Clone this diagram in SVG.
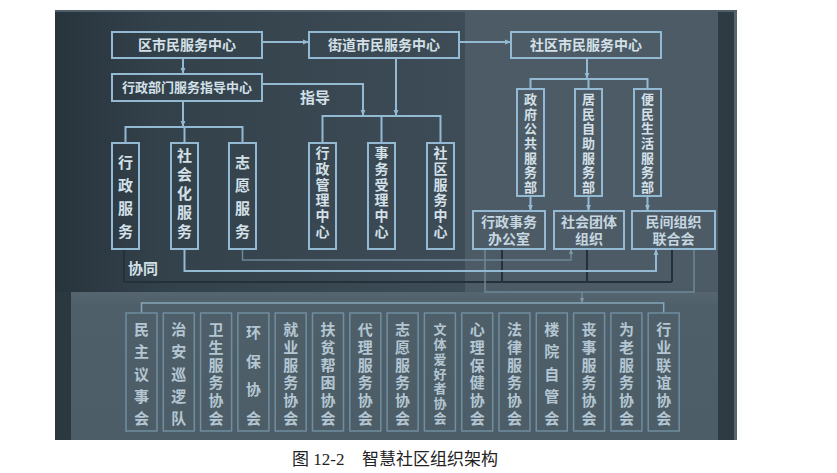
<svg xmlns="http://www.w3.org/2000/svg" width="837" height="473" viewBox="0 0 837 473">
<style>
.ln{stroke:#93bad2;stroke-width:2;fill:none}
.dim{stroke:#6e8898;stroke-width:1.5;fill:none}
.dark{stroke:#24313a;stroke-width:2;fill:none}
.box{fill:none;stroke:#93bad2;stroke-width:2}
.sbox{fill:none;stroke:#6f8ea0;stroke-width:1.5}
.t{font-family:"Liberation Sans","Noto Sans CJK SC",sans-serif;font-weight:bold;fill:#d3e0e8;text-anchor:middle;dominant-baseline:central}
.st{font-family:"Liberation Sans","Noto Sans CJK SC",sans-serif;font-weight:bold;fill:#b3c6d2;text-anchor:middle;dominant-baseline:central;font-size:15px}
.cap{font-family:"Liberation Serif","Noto Sans CJK SC",serif;font-size:17px;fill:#222}
</style>
<defs>
<linearGradient id="gl" x1="0" y1="0" x2="1" y2="0">
<stop offset="0" stop-color="#27343c"/>
<stop offset="0.25" stop-color="#33414b"/>
<stop offset="1" stop-color="#3d4c56"/>
</linearGradient>
<linearGradient id="gb" x1="0" y1="0" x2="0" y2="1">
<stop offset="0" stop-color="#566670"/>
<stop offset="0.1" stop-color="#4f5f69"/>
<stop offset="1" stop-color="#4d5d67"/>
</linearGradient>
<marker id="ah" viewBox="0 0 10 10" refX="10" refY="5" markerWidth="6" markerHeight="6" markerUnits="userSpaceOnUse" orient="auto"><path d="M0,1 L10,5 L0,9 z" fill="#93bad2"/></marker>
<marker id="ahd" viewBox="0 0 10 10" refX="10" refY="5" markerWidth="5" markerHeight="5" markerUnits="userSpaceOnUse" orient="auto"><path d="M0,1 L10,5 L0,9 z" fill="#7e9aab"/></marker>
</defs>

<!-- background panels -->
<rect x="55" y="10" width="682" height="430" fill="#46555f"/>
<rect x="55" y="10" width="410" height="282" fill="url(#gl)"/>
<rect x="465" y="10" width="253" height="282" fill="#4c5b65"/>
<rect x="718" y="10" width="19" height="430" fill="#2f3b43"/>
<rect x="734" y="10" width="3" height="430" fill="#56656e"/>
<rect x="71" y="292" width="647" height="148" fill="url(#gb)"/>
<rect x="55" y="292" width="16" height="148" fill="#2c3840"/>
<line x1="55" y1="11" x2="737" y2="11" stroke="#4f5e68" stroke-width="2"/>

<!-- connectors -->
<g id="connectors">
<line class="ln" x1="262" y1="42" x2="309" y2="42" marker-end="url(#ah)"/>
<line class="ln" x1="459" y1="42" x2="511" y2="42" marker-end="url(#ah)"/>
<line class="ln" x1="183" y1="58" x2="183" y2="74" marker-end="url(#ah)"/>
<line class="ln" x1="183" y1="101" x2="183" y2="127" marker-end="url(#ah)"/>
<polyline class="ln" points="125.5,143 125.5,127 242.5,127 242.5,143"/>
<line class="ln" x1="184.5" y1="127" x2="184.5" y2="143"/>
<polyline class="ln" points="262,84 363,84 363,116" marker-end="url(#ah)"/>
<line class="ln" x1="396" y1="58" x2="396" y2="116" marker-end="url(#ah)"/>
<polyline class="ln" points="322.5,143 322.5,116 440.5,116 440.5,143"/>
<line class="ln" x1="381.5" y1="116" x2="381.5" y2="143"/>
<line class="ln" x1="587" y1="58" x2="587" y2="79" marker-end="url(#ah)"/>
<polyline class="ln" points="530.5,89 530.5,79 647.5,79 647.5,89"/>
<line class="ln" x1="588.5" y1="79" x2="588.5" y2="89"/>
<line class="ln" x1="530.5" y1="196" x2="530.5" y2="211" marker-end="url(#ah)"/>
<line class="ln" x1="588.5" y1="196" x2="588.5" y2="211" marker-end="url(#ah)"/>
<line class="ln" x1="647.5" y1="196" x2="647.5" y2="211" marker-end="url(#ah)"/>
<polyline class="dark" points="124,249 124,282 672,282"/>
<line class="dark" x1="502" y1="249" x2="502" y2="282"/>
<line class="dark" x1="587" y1="249" x2="587" y2="282"/>
<line class="dark" x1="672" y1="249" x2="672" y2="282"/>
<polyline class="dim" points="485,249 485,292 694,292 694,249"/>
<polyline class="dim" points="242.5,249 242.5,260 571,260 571,249" marker-end="url(#ahd)"/>
<polyline class="ln" points="184.5,249 184.5,271 656,271 656,249" marker-end="url(#ah)"/>
<line class="dim" x1="582" y1="292" x2="582" y2="303" marker-end="url(#ahd)"/>
<polyline class="dim" points="141.5,313 141.5,303 663.7,303 663.7,313" style="stroke:#86a6b9"/>
</g>

<text class="t" x="315" y="97" style="font-size:15px">指导</text>
<text class="t" x="143" y="268" style="font-size:15px">协同</text>

<!-- top nodes -->
<g id="n-qu"><rect class="box" x="112" y="32" width="150" height="26"/><text class="t" x="187" y="45" style="font-size:14px">区市民服务中心</text></g>
<g id="n-jiedao"><rect class="box" x="309" y="32" width="150" height="26"/><text class="t" x="384" y="45" style="font-size:14px">街道市民服务中心</text></g>
<g id="n-shequ"><rect class="box" x="511" y="32" width="150" height="26"/><text class="t" x="586" y="45" style="font-size:14px">社区市民服务中心</text></g>
<g id="n-xingzhengbumen"><rect class="box" x="112" y="74" width="150" height="27"/><text class="t" x="187" y="87.5" style="font-size:13px">行政部门服务指导中心</text></g>

<!-- left vertical nodes -->
<g id="n-xzfw"><rect class="box" x="112" y="143" width="27" height="106"/><text class="t" style="font-size:15px"><tspan x="125.5" y="162">行</tspan><tspan x="125.5" y="185">政</tspan><tspan x="125.5" y="208">服</tspan><tspan x="125.5" y="231">务</tspan></text></g>
<g id="n-shhfw"><rect class="box" x="171" y="143" width="27" height="106"/><text class="t" style="font-size:15px"><tspan x="184.5" y="155">社</tspan><tspan x="184.5" y="174">会</tspan><tspan x="184.5" y="193">化</tspan><tspan x="184.5" y="212">服</tspan><tspan x="184.5" y="231">务</tspan></text></g>
<g id="n-zyfw"><rect class="box" x="229" y="143" width="27" height="106"/><text class="t" style="font-size:15px"><tspan x="242.5" y="162">志</tspan><tspan x="242.5" y="185">愿</tspan><tspan x="242.5" y="208">服</tspan><tspan x="242.5" y="231">务</tspan></text></g>
<g id="n-xzgl"><rect class="box" x="309" y="143" width="27" height="106"/><text class="t" style="font-size:14px"><tspan x="322.5" y="153">行</tspan><tspan x="322.5" y="168.8">政</tspan><tspan x="322.5" y="184.6">管</tspan><tspan x="322.5" y="200.4">理</tspan><tspan x="322.5" y="216.2">中</tspan><tspan x="322.5" y="232">心</tspan></text></g>
<g id="n-swsl"><rect class="box" x="368" y="143" width="27" height="106"/><text class="t" style="font-size:14px"><tspan x="381.5" y="153">事</tspan><tspan x="381.5" y="168.8">务</tspan><tspan x="381.5" y="184.6">受</tspan><tspan x="381.5" y="200.4">理</tspan><tspan x="381.5" y="216.2">中</tspan><tspan x="381.5" y="232">心</tspan></text></g>
<g id="n-sqfw"><rect class="box" x="427" y="143" width="27" height="106"/><text class="t" style="font-size:14px"><tspan x="440.5" y="153">社</tspan><tspan x="440.5" y="168.8">区</tspan><tspan x="440.5" y="184.6">服</tspan><tspan x="440.5" y="200.4">务</tspan><tspan x="440.5" y="216.2">中</tspan><tspan x="440.5" y="232">心</tspan></text></g>

<!-- right vertical nodes -->
<g id="n-zfgg"><rect class="box" x="517" y="89" width="27" height="107"/><text class="t" style="font-size:13px"><tspan x="530.5" y="99">政</tspan><tspan x="530.5" y="113.7">府</tspan><tspan x="530.5" y="128.3">公</tspan><tspan x="530.5" y="143">共</tspan><tspan x="530.5" y="157.7">服</tspan><tspan x="530.5" y="172.3">务</tspan><tspan x="530.5" y="187">部</tspan></text></g>
<g id="n-jmzz"><rect class="box" x="575" y="89" width="27" height="107"/><text class="t" style="font-size:13px"><tspan x="588.5" y="99">居</tspan><tspan x="588.5" y="113.7">民</tspan><tspan x="588.5" y="128.3">自</tspan><tspan x="588.5" y="143">助</tspan><tspan x="588.5" y="157.7">服</tspan><tspan x="588.5" y="172.3">务</tspan><tspan x="588.5" y="187">部</tspan></text></g>
<g id="n-bmsh"><rect class="box" x="634" y="89" width="27" height="107"/><text class="t" style="font-size:13px"><tspan x="647.5" y="99">便</tspan><tspan x="647.5" y="113.7">民</tspan><tspan x="647.5" y="128.3">生</tspan><tspan x="647.5" y="143">活</tspan><tspan x="647.5" y="157.7">服</tspan><tspan x="647.5" y="172.3">务</tspan><tspan x="647.5" y="187">部</tspan></text></g>

<!-- right bottom nodes -->
<g id="n-xzsw"><rect class="box" x="473" y="211" width="72" height="38"/><text class="t" style="font-size:14px;fill:#c6d6e0"><tspan x="509" y="222">行政事务</tspan><tspan x="509" y="239">办公室</tspan></text></g>
<g id="n-shtt"><rect class="box" x="554" y="211" width="70" height="38"/><text class="t" style="font-size:14px;fill:#c6d6e0"><tspan x="589" y="222">社会团体</tspan><tspan x="589" y="239">组织</tspan></text></g>
<g id="n-mjzz"><rect class="box" x="632" y="211" width="83" height="38"/><text class="t" style="font-size:14px;fill:#c6d6e0"><tspan x="673.5" y="222">民间组织</tspan><tspan x="673.5" y="239">联合会</tspan></text></g>

<!-- bottom association nodes -->
<g id="b0"><rect class="sbox" x="126" y="313" width="31" height="118"/><text class="st"><tspan x="141.5" y="329">民</tspan><tspan x="141.5" y="351">主</tspan><tspan x="141.5" y="374">议</tspan><tspan x="141.5" y="396">事</tspan><tspan x="141.5" y="418">会</tspan></text></g>
<g id="b1"><rect class="sbox" x="163.3" y="313" width="31" height="118"/><text class="st"><tspan x="178.8" y="329">治</tspan><tspan x="178.8" y="351">安</tspan><tspan x="178.8" y="374">巡</tspan><tspan x="178.8" y="396">逻</tspan><tspan x="178.8" y="418">队</tspan></text></g>
<g id="b2"><rect class="sbox" x="200.6" y="313" width="31" height="118"/><text class="st"><tspan x="216.1" y="329">卫</tspan><tspan x="216.1" y="347">生</tspan><tspan x="216.1" y="365">服</tspan><tspan x="216.1" y="382">务</tspan><tspan x="216.1" y="400">协</tspan><tspan x="216.1" y="418">会</tspan></text></g>
<g id="b3"><rect class="sbox" x="237.9" y="313" width="31" height="118"/><text class="st"><tspan x="253.4" y="332">环</tspan><tspan x="253.4" y="361">保</tspan><tspan x="253.4" y="389">协</tspan><tspan x="253.4" y="418">会</tspan></text></g>
<g id="b4"><rect class="sbox" x="275.2" y="313" width="31" height="118"/><text class="st"><tspan x="290.7" y="329">就</tspan><tspan x="290.7" y="347">业</tspan><tspan x="290.7" y="365">服</tspan><tspan x="290.7" y="382">务</tspan><tspan x="290.7" y="400">协</tspan><tspan x="290.7" y="418">会</tspan></text></g>
<g id="b5"><rect class="sbox" x="312.5" y="313" width="31" height="118"/><text class="st"><tspan x="328" y="329">扶</tspan><tspan x="328" y="347">贫</tspan><tspan x="328" y="365">帮</tspan><tspan x="328" y="382">困</tspan><tspan x="328" y="400">协</tspan><tspan x="328" y="418">会</tspan></text></g>
<g id="b6"><rect class="sbox" x="349.8" y="313" width="31" height="118"/><text class="st"><tspan x="365.3" y="329">代</tspan><tspan x="365.3" y="347">理</tspan><tspan x="365.3" y="365">服</tspan><tspan x="365.3" y="382">务</tspan><tspan x="365.3" y="400">协</tspan><tspan x="365.3" y="418">会</tspan></text></g>
<g id="b7"><rect class="sbox" x="387.1" y="313" width="31" height="118"/><text class="st"><tspan x="402.6" y="329">志</tspan><tspan x="402.6" y="347">愿</tspan><tspan x="402.6" y="365">服</tspan><tspan x="402.6" y="382">务</tspan><tspan x="402.6" y="400">协</tspan><tspan x="402.6" y="418">会</tspan></text></g>
<g id="b8"><rect class="sbox" x="424.4" y="313" width="31" height="118"/><text class="st" style="font-size:13px"><tspan x="439.9" y="329">文</tspan><tspan x="439.9" y="343.8">体</tspan><tspan x="439.9" y="358.7">爱</tspan><tspan x="439.9" y="373.5">好</tspan><tspan x="439.9" y="388.3">者</tspan><tspan x="439.9" y="403.2">协</tspan><tspan x="439.9" y="418">会</tspan></text></g>
<g id="b9"><rect class="sbox" x="461.7" y="313" width="31" height="118"/><text class="st"><tspan x="477.2" y="329">心</tspan><tspan x="477.2" y="347">理</tspan><tspan x="477.2" y="365">保</tspan><tspan x="477.2" y="382">健</tspan><tspan x="477.2" y="400">协</tspan><tspan x="477.2" y="418">会</tspan></text></g>
<g id="b10"><rect class="sbox" x="499" y="313" width="31" height="118"/><text class="st"><tspan x="514.5" y="329">法</tspan><tspan x="514.5" y="347">律</tspan><tspan x="514.5" y="365">服</tspan><tspan x="514.5" y="382">务</tspan><tspan x="514.5" y="400">协</tspan><tspan x="514.5" y="418">会</tspan></text></g>
<g id="b11"><rect class="sbox" x="536.3" y="313" width="31" height="118"/><text class="st"><tspan x="551.8" y="329">楼</tspan><tspan x="551.8" y="351">院</tspan><tspan x="551.8" y="374">自</tspan><tspan x="551.8" y="396">管</tspan><tspan x="551.8" y="418">会</tspan></text></g>
<g id="b12"><rect class="sbox" x="573.6" y="313" width="31" height="118"/><text class="st"><tspan x="589.1" y="329">丧</tspan><tspan x="589.1" y="347">事</tspan><tspan x="589.1" y="365">服</tspan><tspan x="589.1" y="382">务</tspan><tspan x="589.1" y="400">协</tspan><tspan x="589.1" y="418">会</tspan></text></g>
<g id="b13"><rect class="sbox" x="610.9" y="313" width="31" height="118"/><text class="st"><tspan x="626.4" y="329">为</tspan><tspan x="626.4" y="347">老</tspan><tspan x="626.4" y="365">服</tspan><tspan x="626.4" y="382">务</tspan><tspan x="626.4" y="400">协</tspan><tspan x="626.4" y="418">会</tspan></text></g>
<g id="b14"><rect class="sbox" x="648.2" y="313" width="31" height="118"/><text class="st"><tspan x="663.7" y="329">行</tspan><tspan x="663.7" y="347">业</tspan><tspan x="663.7" y="365">联</tspan><tspan x="663.7" y="382">谊</tspan><tspan x="663.7" y="400">协</tspan><tspan x="663.7" y="418">会</tspan></text></g>

<text class="cap" y="465"><tspan x="292">图 12-2</tspan><tspan x="362">智慧社区组织架构</tspan></text>
</svg>
